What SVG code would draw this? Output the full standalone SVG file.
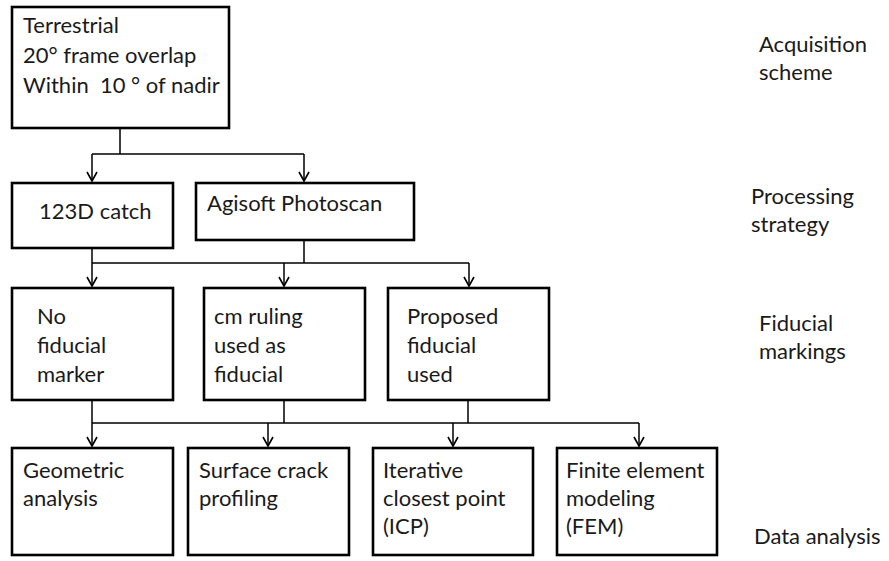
<svg xmlns="http://www.w3.org/2000/svg" width="889" height="561" viewBox="0 0 889 561">
<style>
.box{fill:#fff;stroke:#000;stroke-width:2.6}
.t{font-family:Lato,"Liberation Sans",sans-serif;font-size:22px;fill:#1a1a1a;white-space:pre}
.c{fill:none;stroke:#000;stroke-width:1.5}
</style>
<defs>
<marker id="arr" viewBox="-11 -7 13 14" refX="0" refY="0" markerWidth="13" markerHeight="14" markerUnits="userSpaceOnUse" orient="auto">
<path d="M-9,-5 L0,0 L-9,5" fill="none" stroke="#000" stroke-width="1.6"/>
</marker>
</defs>
<rect width="889" height="561" fill="#fff"/>
<g id="connectors">
<path class="c" d="M120,128 V154 M92,154 H304"/>
<path class="c" d="M92,154 V181" marker-end="url(#arr)"/>
<path class="c" d="M304,154 V181" marker-end="url(#arr)"/>
<path class="c" d="M92,248 V263 M304,240 V263 M92,263 H469"/>
<path class="c" d="M92,263 V286" marker-end="url(#arr)"/>
<path class="c" d="M284,263 V286" marker-end="url(#arr)"/>
<path class="c" d="M469,263 V286" marker-end="url(#arr)"/>
<path class="c" d="M92,400 V423 M284,400 V423 M468,400 V423 M92,423 H639"/>
<path class="c" d="M92,423 V446" marker-end="url(#arr)"/>
<path class="c" d="M268,423 V446" marker-end="url(#arr)"/>
<path class="c" d="M453,423 V446" marker-end="url(#arr)"/>
<path class="c" d="M639,423 V446" marker-end="url(#arr)"/>
</g>
<g id="acq">
<rect class="box" x="12" y="7" width="217" height="121"/>
<text class="t" x="23" y="33">Terrestrial</text>
<text class="t" x="23" y="63">20° frame overlap</text>
<text class="t" x="23" y="93">Within  10 ° of nadir</text>
</g>
<g id="catch123d">
<rect class="box" x="12" y="183" width="161" height="65"/>
<text class="t" x="39" y="219">123D catch</text>
</g>
<g id="agisoft">
<rect class="box" x="196" y="183" width="218" height="57"/>
<text class="t" x="207" y="211">Agisoft Photoscan</text>
</g>
<g id="nofid">
<rect class="box" x="12" y="288" width="161" height="112"/>
<text class="t" x="37" y="324">No</text>
<text class="t" x="37" y="353">fiducial</text>
<text class="t" x="37" y="382">marker</text>
</g>
<g id="cmruling">
<rect class="box" x="204" y="288" width="161" height="112"/>
<text class="t" x="214" y="324">cm ruling</text>
<text class="t" x="214" y="353">used as</text>
<text class="t" x="214" y="382">fiducial</text>
</g>
<g id="proposed">
<rect class="box" x="388" y="288" width="161" height="112"/>
<text class="t" x="407" y="324">Proposed</text>
<text class="t" x="407" y="353">fiducial</text>
<text class="t" x="407" y="382">used</text>
</g>
<g id="geom">
<rect class="box" x="12" y="448" width="161" height="107"/>
<text class="t" x="23" y="478">Geometric</text>
<text class="t" x="23" y="506">analysis</text>
</g>
<g id="crack">
<rect class="box" x="188" y="448" width="161" height="107"/>
<text class="t" x="199" y="478">Surface crack</text>
<text class="t" x="199" y="506">profiling</text>
</g>
<g id="icp">
<rect class="box" x="373" y="448" width="160" height="107"/>
<text class="t" x="383" y="478">Iterative</text>
<text class="t" x="383" y="506">closest point</text>
<text class="t" x="383" y="534">(ICP)</text>
</g>
<g id="fem">
<rect class="box" x="557" y="448" width="160" height="107"/>
<text class="t" x="566" y="478">Finite element</text>
<text class="t" x="566" y="506">modeling</text>
<text class="t" x="566" y="534">(FEM)</text>
</g>
<g id="labels">
<text class="t" x="759" y="52">Acquisition</text>
<text class="t" x="759" y="80">scheme</text>
<text class="t" x="751" y="204">Processing</text>
<text class="t" x="751" y="232">strategy</text>
<text class="t" x="759" y="331">Fiducial</text>
<text class="t" x="759" y="359">markings</text>
<text class="t" x="754" y="544">Data analysis</text>
</g>
</svg>
